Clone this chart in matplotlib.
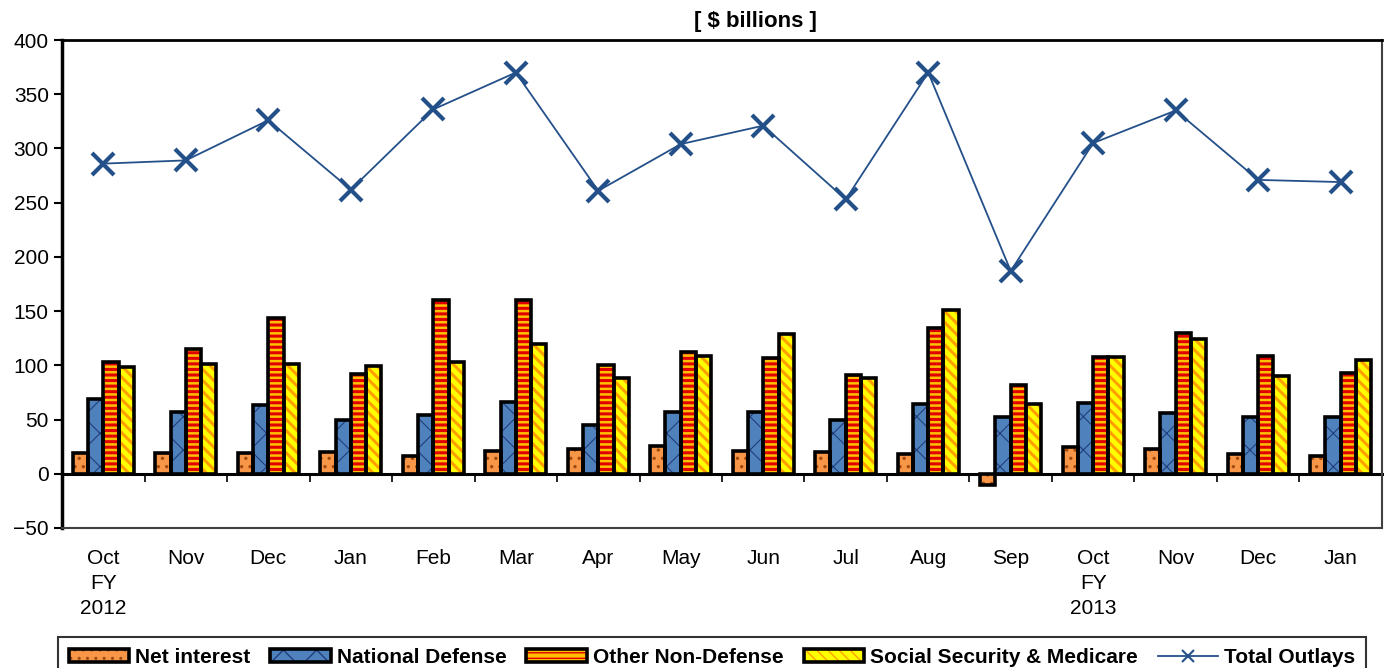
import numpy as np
import matplotlib
matplotlib.use('Agg')
import matplotlib.pyplot as plt
from matplotlib.patches import Patch
from matplotlib.lines import Line2D
from matplotlib.legend_handler import HandlerTuple

plt.rcParams['font.family'] = ['Liberation Sans', 'DejaVu Sans']

# data, $ billions
months = ['Oct\nFY\n2012', 'Nov', 'Dec', 'Jan', 'Feb', 'Mar', 'Apr', 'May',
          'Jun', 'Jul', 'Aug', 'Sep', 'Oct\nFY\n2013', 'Nov', 'Dec', 'Jan']
net_interest = [19, 19, 19, 20, 16, 21, 23, 26, 21, 20, 18, -10, 25, 23, 18, 16]
national_defense = [69, 57, 63, 50, 54, 66, 45, 57, 57, 50, 64, 52, 65, 56, 52, 52]
other_non_defense = [103, 115, 144, 92, 160, 160, 100, 112, 107, 91, 134, 82, 108, 130, 109, 93]
ss_medicare = [98, 101, 101, 99, 103, 120, 88, 109, 129, 88, 151, 64, 108, 124, 90, 105]
total_outlays = [286, 289, 326, 262, 336, 370, 261, 304, 321, 253, 370, 187, 305, 335, 271, 269]

# (name, values, face, hatch colour, hatch, hatch lw)
series = [
    ('Net interest', net_interest, '#F79646', '#A04A10', '..', 1.2),
    ('National Defense', national_defense, '#4F81BD', '#1F3F7A', 'x', 0.8),
    ('Other Non-Defense', other_non_defense, '#FFC000', '#E00000', '---', 2.2),
    ('Social Security & Medicare', ss_medicare, '#FFFF00', '#FFA000', '\\\\\\', 2.2),
]

fig = plt.figure(figsize=(13.85, 6.68), dpi=100)
ax = fig.add_axes([0.0448, 0.2096, 0.953, 0.7305])

x = np.arange(len(months))
w = 0.185
handles = []
for i, (name, vals, face, hc, hatch, hlw) in enumerate(series):
    pos = x + (i - 1.5) * w
    with plt.rc_context({'hatch.linewidth': hlw}):
        bars = ax.bar(pos, vals, w, color=face, edgecolor=hc, hatch=hatch,
                      linewidth=0, zorder=3)
        for b in bars:
            if hasattr(b, 'set_hatch_linewidth'):
                b.set_hatch_linewidth(hlw)
        hp = Patch(facecolor=face, edgecolor=hc, hatch=hatch, linewidth=0)
        if hasattr(hp, 'set_hatch_linewidth'):
            hp.set_hatch_linewidth(hlw)
    ax.bar(pos, vals, w, fill=False, edgecolor='black', linewidth=2.6, zorder=4)
    op = Patch(facecolor='none', edgecolor='black', linewidth=2.6)
    handles.append(((hp, op), name))

ax.plot(x, total_outlays, color='#24508A', linewidth=1.3, marker='x',
        markersize=16, markeredgewidth=3, zorder=5)
line_h = Line2D([], [], color='#24508A', linewidth=1.3, marker='x',
                markersize=9, markeredgewidth=1.5)
handles.append((line_h, 'Total Outlays'))

ax.set_xlim(-0.5, len(months) - 0.5)
ax.set_ylim(-50, 400)
ax.set_yticks(np.arange(-50, 401, 50))
ax.set_xticks(x)
ax.set_xticklabels(months, fontsize=15, linespacing=1.4)
ax.tick_params(axis='x', length=0, pad=15)
ax.tick_params(axis='y', labelsize=15, length=6, width=1.5, direction='out')

ax.spines['left'].set_linewidth(2.5)
ax.spines['top'].set_linewidth(2)
ax.spines['right'].set_color('#404040')
ax.spines['right'].set_linewidth(1.5)
ax.spines['bottom'].set_color('#404040')
ax.spines['bottom'].set_linewidth(1.5)

# zero line with ticks between months
zero_ax = ax.secondary_xaxis(50 / 450)
zero_ax.spines['bottom'].set_linewidth(2.2)
zero_ax.set_xticks(np.arange(0.5, len(months) - 0.5, 1))
zero_ax.set_xticklabels([])
zero_ax.tick_params(length=6, width=1.2, direction='out')

fig.text(755 / 1385, 1 - 21 / 668, '[ $ billions ]', fontsize=16,
         fontweight='bold', ha='center', va='center')

leg = fig.legend([h for h, _ in handles], [n for _, n in handles],
                 loc='upper center', bbox_to_anchor=(712 / 1385, 1 - 627 / 668),
                 ncol=5, frameon=True, fancybox=False, edgecolor='black',
                 prop={'weight': 'bold', 'size': 15}, handlelength=2.9,
                 handleheight=0.6, handletextpad=0.3, columnspacing=0.95,
                 borderpad=0.5, handler_map={tuple: HandlerTuple(ndivide=1)})
leg.get_frame().set_linewidth(1.5)

fig.savefig('out.png', dpi=100)
